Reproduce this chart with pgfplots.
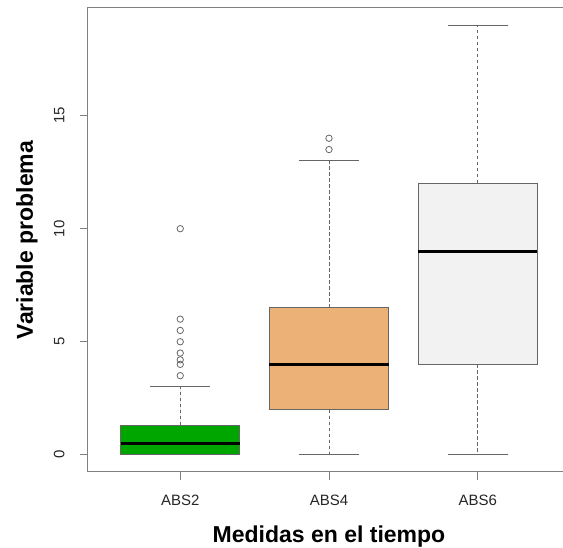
\documentclass[border=0pt]{standalone}
\usepackage{fontspec}
\setmainfont{Liberation Sans}
\usepackage{pgfplots}
\pgfplotsset{compat=1.18}
\usepgfplotslibrary{statistics}
\definecolor{cA}{HTML}{00A600}
\definecolor{cB}{HTML}{ECB176}
\definecolor{cC}{HTML}{F2F2F2}
\definecolor{ln}{HTML}{666666}
\definecolor{ax}{HTML}{808080}
\begin{document}
\begin{tikzpicture}
\begin{axis}[name=ax, scale only axis, width=482pt, height=464pt,
 xmin=0.38, xmax=3.62, ymin=-0.76, ymax=19.76,
 xtick={1,2,3}, xticklabels={ABS2,ABS4,ABS6},
 ytick={0,5,10,15},
 tick pos=left, tick align=outside, major tick length=8pt,
 tick style={draw=ax, line width=0.9pt},
 axis line style={draw=ax, line width=1pt},
 ticklabel style={font=\fontsize{15}{18}\selectfont, text=black!85},
 /pgf/number format/assume math mode=true,
 yticklabel style={rotate=90, anchor=south},
 xticklabel shift=11pt, yticklabel shift=12pt,
 xlabel={Medidas en el tiempo}, ylabel={Variable problema},
 label style={font=\fontsize{23}{27}\selectfont\bfseries},
 xlabel style={at={(axis description cs:0.5,-0.1509)}, anchor=base},
 ylabel style={at={(axis description cs:-0.1141,0.5)}, anchor=base},
 boxplot/draw direction=y,
 boxplot/box extend=0.8, boxplot/whisker extend=0.4,
 boxplot/every whisker/.style={dash pattern=on 3.5pt off 2.5pt},
 boxplot/every median/.style={draw=black, line width=2.5pt, solid},
]
\addplot[boxplot prepared={draw position=1, lower whisker=0, lower quartile=0,
  median=0.5, upper quartile=1.3, upper whisker=3},
  draw=ln, fill=cA, line width=1pt, mark=o, mark size=3.2pt,
  mark options={draw=ln, fill=none, solid, line width=0.8pt}]
  table[row sep=\\, y index=0] {y\\ 3.5\\ 4\\ 4.2\\ 4.5\\ 5\\ 5.5\\ 6\\ 10\\};
\addplot[boxplot prepared={draw position=2, lower whisker=0, lower quartile=2,
  median=4, upper quartile=6.5, upper whisker=13},
  draw=ln, fill=cB, line width=1pt, mark=o, mark size=3.2pt,
  mark options={draw=ln, fill=none, solid, line width=0.8pt}]
  table[row sep=\\, y index=0] {y\\ 13.5\\ 14\\};
\addplot[boxplot prepared={draw position=3, lower whisker=0, lower quartile=4,
  median=9, upper quartile=12, upper whisker=19},
  draw=ln, fill=cC, line width=1pt]
  coordinates {};
% solid whisker caps
\addplot[draw=ln, line width=1pt, forget plot] coordinates {(0.8,3) (1.2,3)};
\addplot[draw=ln, line width=1pt, forget plot] coordinates {(1.8,13) (2.2,13)};
\addplot[draw=ln, line width=1pt, forget plot] coordinates {(1.8,0) (2.2,0)};
\addplot[draw=ln, line width=1pt, forget plot] coordinates {(2.8,19) (3.2,19)};
\addplot[draw=ln, line width=1pt, forget plot] coordinates {(2.8,0) (3.2,0)};
\end{axis}
\pgfresetboundingbox
\path[use as bounding box] ([xshift=-88pt,yshift=-76pt]ax.south west) rectangle ([xshift=475pt,yshift=8pt]ax.north west);
\end{tikzpicture}
\end{document}
